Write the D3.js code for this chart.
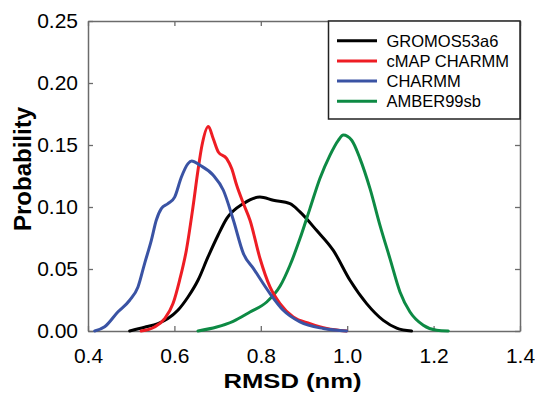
<!DOCTYPE html>
<html>
<head>
<meta charset="utf-8">
<script src="https://cdn.jsdelivr.net/npm/d3@7"></script>
<style>
  html, body { margin: 0; padding: 0; background: #fff; }
  svg { display: block; }
  text { font-family: "Liberation Sans", Arial, Helvetica, sans-serif; }
</style>
</head>
<body>
<svg id="chart" width="535" height="394"></svg>
<script>
// ---- data ----
const seriesNames = ["GROMOS53a6", "cMAP CHARMM", "CHARMM", "AMBER99sb"];
const seriesColors = ["#000000", "#ee1d24", "#3a53a4", "#0d8a44"];

const gromosX = [0.4965,0.531,0.562,0.585,0.608,0.6315,0.6546,0.6778,0.701,0.721,0.7595,0.798,0.829,0.8676,0.8907,0.929,0.9678,1.0065,1.045,1.0836,1.1146,1.149];
const gromosY = [0,0.003,0.006,0.010,0.0167,0.0274,0.0409,0.0597,0.0772,0.0906,0.1027,0.108,0.1054,0.1027,0.096,0.0812,0.065,0.0409,0.0221,0.0086,0.0024,0];

const cmapX = [0.523,0.554,0.5775,0.5968,0.612,0.6276,0.643,0.6546,0.664,0.6786,0.690,0.7016,0.721,0.7326,0.7442,0.7595,0.775,0.798,0.8213,0.8444,0.875,0.914,0.9525,0.9988];
const cmapY = [0,0.0032,0.010,0.0221,0.0409,0.065,0.100,0.1296,0.150,0.165,0.155,0.1444,0.139,0.131,0.1175,0.103,0.0893,0.0587,0.0355,0.0221,0.0113,0.006,0.002,0];

const charmmX = [0.4155,0.4386,0.469,0.4965,0.5157,0.531,0.5466,0.558,0.5697,0.585,0.6006,0.616,0.6315,0.640,0.6593,0.690,0.7133,0.7366,0.7598,0.7831,0.8213,0.852,0.8907,0.9447,0.9988];
const charmmY = [0,0.0034,0.0153,0.0248,0.0355,0.0544,0.0731,0.0893,0.0987,0.1027,0.108,0.124,0.135,0.1371,0.1336,0.1256,0.1135,0.0893,0.0624,0.0503,0.0302,0.0167,0.0073,0.002,0];

const amberX = [0.6546,0.698,0.736,0.775,0.8137,0.8444,0.8676,0.8907,0.9137,0.9368,0.960,0.9794,0.991,1.0104,1.0296,1.0528,1.0759,1.099,1.1222,1.1454,1.1762,1.2072,1.234];
const amberY = [0,0.0032,0.0078,0.0153,0.0234,0.036,0.053,0.0745,0.0987,0.123,0.1417,0.1538,0.158,0.1538,0.139,0.1148,0.0852,0.0584,0.0315,0.0153,0.0046,0.0006,0];

const xTicks = [0.4, 0.6, 0.8, 1.0, 1.2, 1.4];
const yTicks = [0.00, 0.05, 0.10, 0.15, 0.20, 0.25];
const xTitle = "RMSD (nm)";
const yTitle = "Probability";

// ---- layout ----
const svg = d3.select("#chart");
const pLeft = 88, pRight = 520, pTop = 21, pBottom = 331;
const x = d3.scaleLinear().domain([0.4, 1.4]).range([pLeft, pRight]);
const y = d3.scaleLinear().domain([0, 0.25]).range([pBottom, pTop]);
const frameColor = "#6b6b6b";

function styleAxis(g) {
  g.select(".domain").attr("stroke", frameColor).attr("stroke-width", 1.5);
  g.selectAll(".tick line").attr("stroke", frameColor).attr("stroke-width", 1.3);
  g.selectAll("text").attr("fill", "#000")
    .style("font-family", '"Liberation Sans", Arial, Helvetica, sans-serif')
    .style("font-size", "21px");
}

// bottom axis
svg.append("g").attr("transform", `translate(0,${pBottom})`)
  .call(d3.axisBottom(x).tickValues(xTicks).tickFormat(d3.format(".1f"))
        .tickSizeInner(-5).tickSizeOuter(0).tickPadding(17))
  .call(styleAxis);
// top axis
svg.append("g").attr("transform", `translate(0,${pTop})`)
  .call(d3.axisTop(x).tickValues(xTicks).tickFormat("")
        .tickSizeInner(-5).tickSizeOuter(0))
  .call(styleAxis);
// left axis
svg.append("g").attr("transform", `translate(${pLeft},0)`)
  .call(d3.axisLeft(y).tickValues(yTicks).tickFormat(d3.format(".2f"))
        .tickSizeInner(-5).tickSizeOuter(0).tickPadding(10))
  .call(styleAxis);
// right axis
svg.append("g").attr("transform", `translate(${pRight},0)`)
  .call(d3.axisRight(y).tickValues(yTicks).tickFormat("")
        .tickSizeInner(-5).tickSizeOuter(0))
  .call(styleAxis);

// ---- curves ----
const line = d3.line().x(d => x(d[0])).y(d => y(d[1])).curve(d3.curveMonotoneX);
const allSeries = [
  { name: seriesNames[0], color: seriesColors[0], xs: gromosX, ys: gromosY },
  { name: seriesNames[1], color: seriesColors[1], xs: cmapX, ys: cmapY },
  { name: seriesNames[2], color: seriesColors[2], xs: charmmX, ys: charmmY },
  { name: seriesNames[3], color: seriesColors[3], xs: amberX, ys: amberY }
];
const drawOrder = [0, 3, 1, 2];
svg.append("g").selectAll("path")
  .data(drawOrder.map(i => allSeries[i]))
  .join("path")
  .attr("d", s => line(s.xs.map((v, i) => [v, s.ys[i]])))
  .attr("fill", "none")
  .attr("stroke", s => s.color)
  .attr("stroke-width", 3)
  .attr("stroke-linejoin", "round")
  .attr("stroke-linecap", "round");

// ---- legend ----
const lg = svg.append("g");
lg.append("rect").attr("x", 328.5).attr("y", 21).attr("width", 191.5).attr("height", 98)
  .attr("fill", "#fff").attr("stroke", "#222").attr("stroke-width", 1.5);
const rows = lg.selectAll("g.row").data(allSeries).join("g").attr("class", "row")
  .attr("transform", (d, i) => `translate(0,${40.7 + i * 20.2})`);
rows.append("line").attr("x1", 337).attr("x2", 377).attr("y1", 0).attr("y2", 0)
  .attr("stroke", d => d.color).attr("stroke-width", 3);
rows.append("text").attr("x", 386.5).attr("y", 5.8)
  .style("font-size", "16.5px").attr("fill", "#000").text(d => d.name);

// ---- titles ----
svg.append("text").attr("x", 292.5).attr("y", 388)
  .attr("text-anchor", "middle").style("font-size", "21px").style("font-weight", "bold")
  .attr("textLength", 138).attr("lengthAdjust", "spacingAndGlyphs")
  .text(xTitle);
svg.append("text").attr("transform", "translate(31,169) rotate(-90)")
  .attr("text-anchor", "middle").style("font-size", "24px").style("font-weight", "bold")
  .text(yTitle);
</script>
</body>
</html>
